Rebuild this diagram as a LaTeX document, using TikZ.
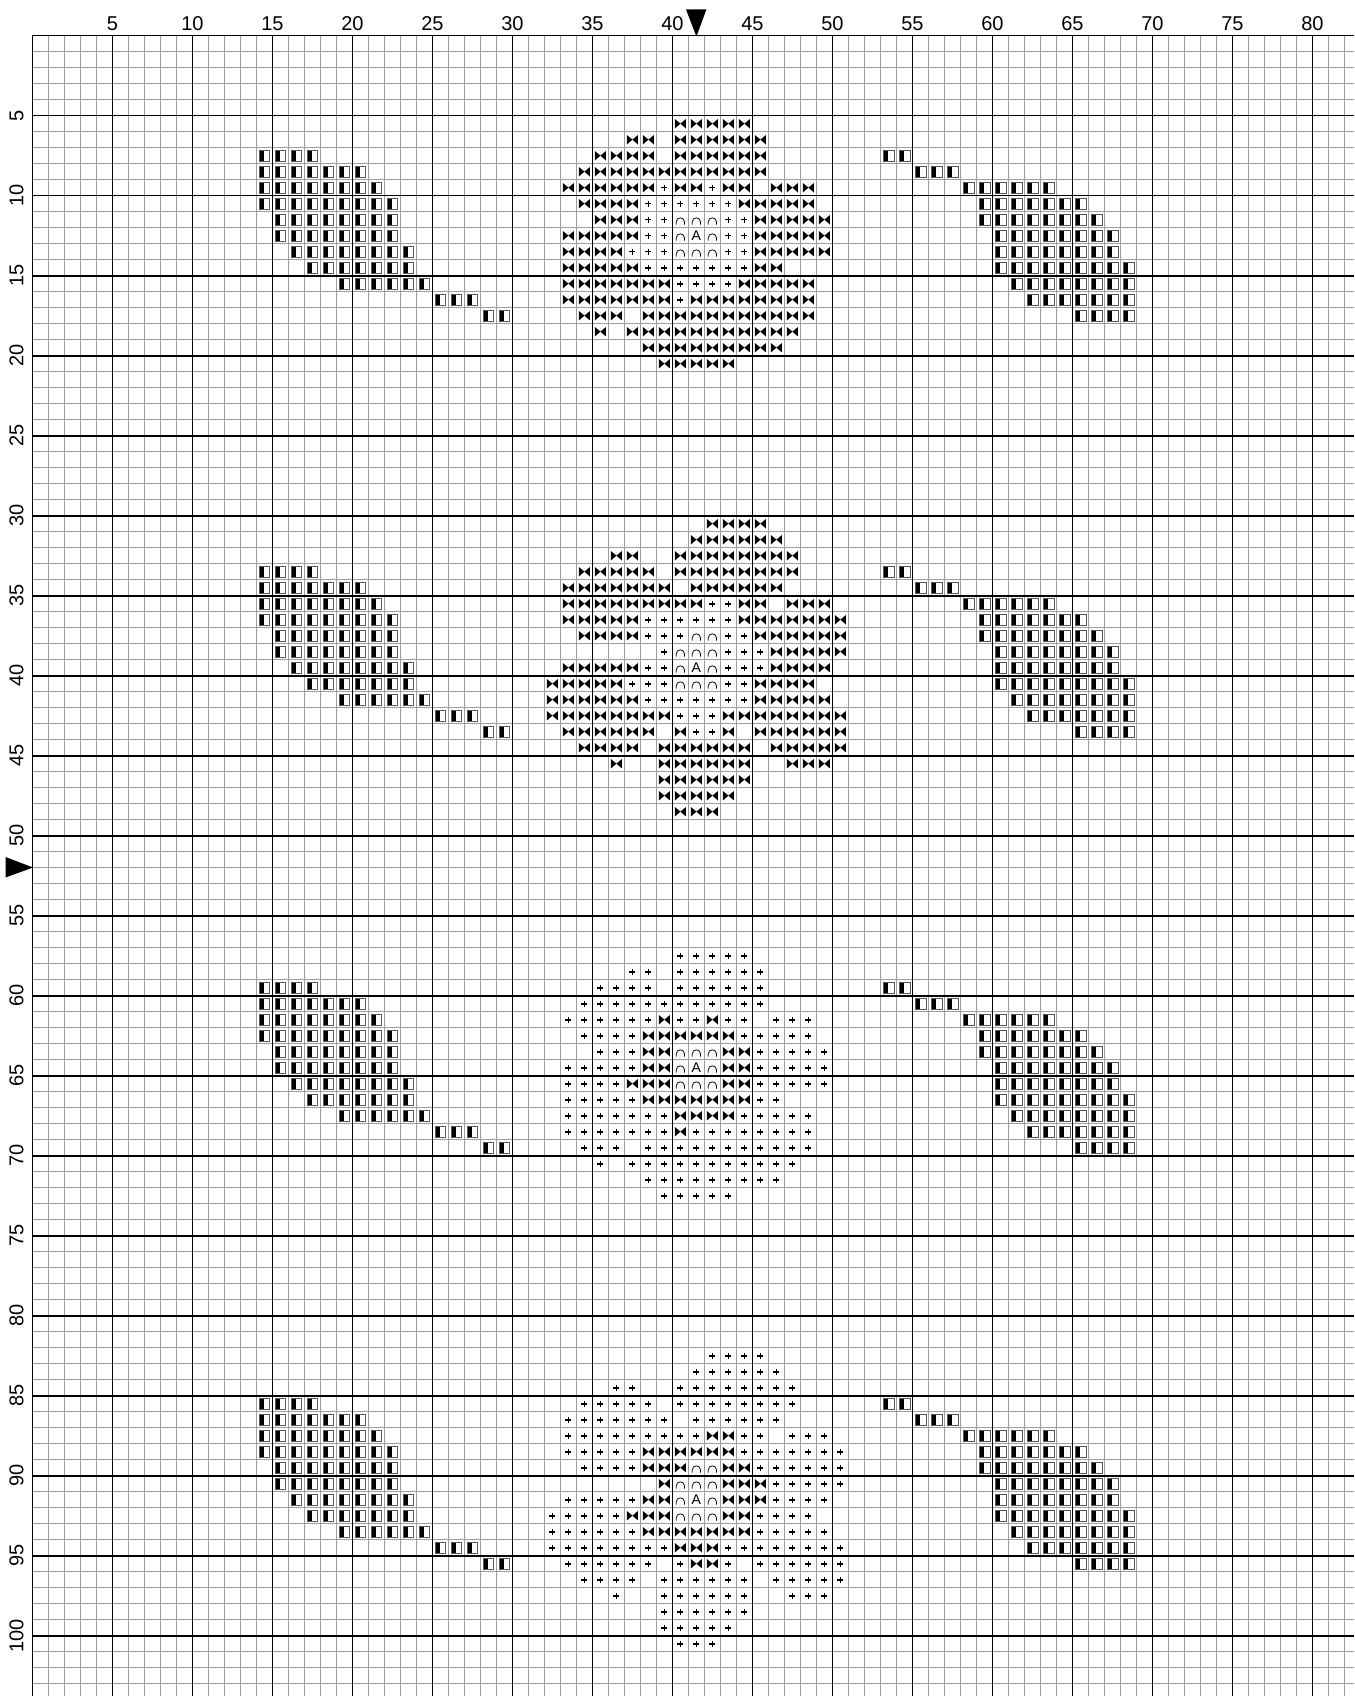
\documentclass[tikz,border=0pt]{standalone}
\usepackage{fontspec}
\setmainfont{Liberation Sans}
\newif\ifmswap
\newcommand\mrow[3]{\def\mr{#1}\def\mc{#2}\mparse#3\relax}
\def\mparse#1{\ifx#1\relax\else\msym#1\pgfmathtruncatemacro\mc{\mc+1}\expandafter\mparse\fi}
\def\msym#1{%
  \if B#1\ifmswap\path (\mc,\mr) pic{plussym};\else\path (\mc,\mr) pic{bowsym};\fi\fi
  \if +#1\ifmswap\path (\mc,\mr) pic{bowsym};\else\path (\mc,\mr) pic{plussym};\fi\fi
  \if n#1\path (\mc,\mr) pic{arcsym};\fi
  \if A#1\pgfmathtruncatemacro\an{\mr}\node[asym,yshift=-5.1pt] (letterA\an) at (\mc,\mr) {A};\fi
  \if L#1\path (\mc,\mr) pic{leafsym};\fi}
\tikzset{
  gthin/.style={black!38, line width=1pt},
  gthick/.style={black, line width=1.6pt},
  collbl/.style={anchor=base, inner sep=0pt, font=\fontsize{20}{24}\selectfont},
  rowlbl/.style={anchor=base, inner sep=0pt, rotate=90, font=\fontsize{20}{24}\selectfont},
  asym/.style={anchor=base, inner sep=0pt, font=\fontsize{14}{14}\selectfont},
  bowsym/.pic={\fill (-0.34,-0.29) -- (-0.34,0.29) -- (0,0) -- cycle (0.34,-0.29) -- (0.34,0.29) -- (0,0) -- cycle;},
  plussym/.pic={\draw[line width=1.6pt] (-0.19,0) -- (0.19,0) (0,-0.19) -- (0,0.19);},
  arcsym/.pic={\draw[line width=0.75pt] (-0.26,0.31) -- (-0.26,0.14) .. controls (-0.26,-0.2) and (0.26,-0.2) .. (0.26,0.14) -- (0.26,0.31);},
  leafsym/.pic={\fill[white] (-0.34,-0.34) rectangle (0.34,0.34); \fill[black] (-0.34,-0.34) rectangle (0,0.34); \draw[black!65, line width=0.7pt] (-0.34,-0.34) rectangle (0.34,0.34);}
}
\newcommand\leaves[1]{%
  \mrow{#1}{15}{LLLL}\mrow{#1}{54}{LL}%
  \mrow{#1+1}{15}{LLLLLLL}\mrow{#1+1}{56}{LLL}%
  \mrow{#1+2}{15}{LLLLLLLL}\mrow{#1+2}{59}{LLLLLL}%
  \mrow{#1+3}{15}{LLLLLLLLL}\mrow{#1+3}{60}{LLLLLLL}%
  \mrow{#1+4}{16}{LLLLLLLL}\mrow{#1+4}{60}{LLLLLLLL}%
  \mrow{#1+5}{16}{LLLLLLLL}\mrow{#1+5}{61}{LLLLLLLL}%
  \mrow{#1+6}{17}{LLLLLLLL}\mrow{#1+6}{61}{LLLLLLLL}%
  \mrow{#1+7}{18}{LLLLLLL}\mrow{#1+7}{61}{LLLLLLLLL}%
  \mrow{#1+8}{20}{LLLLLL}\mrow{#1+8}{62}{LLLLLLLL}%
  \mrow{#1+9}{26}{LLL}\mrow{#1+9}{63}{LLLLLLL}%
  \mrow{#1+10}{29}{LL}\mrow{#1+10}{66}{LLLL}}
\newcommand\centerA[1]{%
  \mrow{#1-2}{32}{.........BBBBB}%
  \mrow{#1-1}{32}{......BB.BBBBBB}%
  \mrow{#1}{32}{....BBBB.BBBBBB}%
  \mrow{#1+1}{32}{...BBBBBBBBBBBB}%
  \mrow{#1+2}{32}{..BBBBBB+BB+BB.BBB}%
  \mrow{#1+3}{32}{...BBBB++++++BBBBB}%
  \mrow{#1+4}{32}{....BBB++nnn++BBBBB}%
  \mrow{#1+5}{32}{..BBBBB++nAn++BBBBB}%
  \mrow{#1+6}{32}{..BBBB+++nnn++BBBBB}%
  \mrow{#1+7}{32}{..BBBBB+++++++BB}%
  \mrow{#1+8}{32}{..BBBBBBB++++BBBBB}%
  \mrow{#1+9}{32}{..BBBBBBB+BBBBBBBB}%
  \mrow{#1+10}{32}{...BBB.BBBBBBBBBBB}%
  \mrow{#1+11}{32}{....B.BBBBBBBBBBB}%
  \mrow{#1+12}{32}{.......BBBBBBBBB}%
  \mrow{#1+13}{32}{........BBBBB}}
\newcommand\centerB[1]{%
  \mrow{#1-3}{32}{...........BBBB}%
  \mrow{#1-2}{32}{..........BBBBBB}%
  \mrow{#1-1}{32}{.....BB..BBBBBBBB}%
  \mrow{#1}{32}{...BBBBB.BBBBBBBB}%
  \mrow{#1+1}{32}{..BBBBBBB.BBBBBB}%
  \mrow{#1+2}{32}{..BBBBBBBBB++BB.BBB}%
  \mrow{#1+3}{32}{..BBBBB++++++BBBBBBB}%
  \mrow{#1+4}{32}{...BBBB+++nn++BBBBBB}%
  \mrow{#1+5}{32}{........+nnn+++BBBBB}%
  \mrow{#1+6}{32}{..BBBBB++nAn+++BBBB}%
  \mrow{#1+7}{32}{.BBBBB+++nnn++BBBB}%
  \mrow{#1+8}{32}{.BBBBBB+++++++BBBBB}%
  \mrow{#1+9}{32}{.BBBBBBBB+++BBBBBBBB}%
  \mrow{#1+10}{32}{..BBBBBB.B++B.BBBBBB}%
  \mrow{#1+11}{32}{...BBBB.BBBBBB.BBBBB}%
  \mrow{#1+12}{32}{.....B..BBBBBB..BBB}%
  \mrow{#1+13}{32}{........BBBBBB}%
  \mrow{#1+14}{32}{........BBBBB}%
  \mrow{#1+15}{32}{.........BBB}}
\begin{document}
\begin{tikzpicture}[x=1pt,y=-1pt]
\useasboundingbox (0,0) rectangle (1354,1696);
\fill[white] (0,0) rectangle (1354,1696);
% thin grid
\foreach \k in {0,...,82} {\draw[gthin] ({32.4+16*\k},35.7) -- ({32.4+16*\k},1696);}
\foreach \k in {0,...,103} {\draw[gthin] (32.4,{35.7+16*\k}) -- (1354,{35.7+16*\k});}
% thick grid
\foreach \k in {0,5,...,80} {\draw[gthick] ({32.4+16*\k},35.7) -- ({32.4+16*\k},1696);}
\foreach \k in {0,5,...,100} {\draw[gthick] (32.4,{35.7+16*\k}) -- (1354,{35.7+16*\k});}
% labels
\foreach \c in {5,10,...,80} {\node[collbl] (col\c) at ({32.4+16*\c},30.6) {\c};}
\foreach \r in {5,10,...,100} {\node[rowlbl] (row\r) at (23.3,{35.7+16*\r}) {\r};}
% centre arrows
\fill (686,9.5) -- (706.4,9.5) -- (696.4,36.5) -- cycle;
\fill (5.5,857) -- (5.5,877.5) -- (33,867.5) -- cycle;
% pattern
\begin{scope}[shift={(24.4,27.7)}, x=16pt, y=-16pt]
  \leaves{8}\leaves{34}\leaves{60}\leaves{86}%
  \mswapfalse
  \centerA{8}\centerB{34}%
  \mswaptrue
  \centerA{60}\centerB{86}%
\end{scope}
\end{tikzpicture}
\end{document}
